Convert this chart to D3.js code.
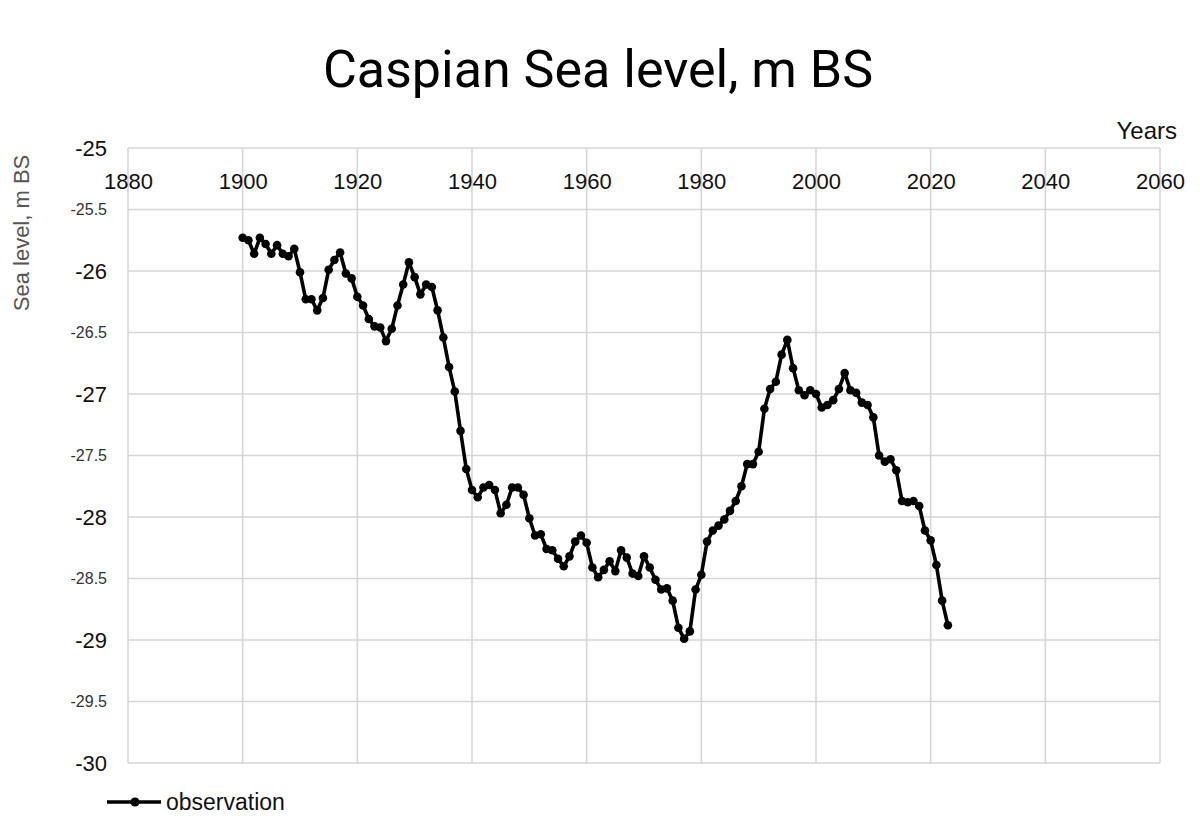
<!DOCTYPE html>
<html>
<head>
<meta charset="utf-8">
<script src="https://cdn.jsdelivr.net/npm/d3@7"></script>
<style>
  body { margin: 0; background: #fff; }
  svg { font-family: "Liberation Sans", Arial, sans-serif; }
</style>
</head>
<body>
<svg width="1200" height="835"></svg>
<script>
var years = d3.range(1900, 2024)
var levels = [
  -25.73, -25.75, -25.86, -25.73, -25.78, -25.86, -25.79, -25.86, -25.88, -25.82,
  -26.01, -26.23, -26.23, -26.32, -26.22, -25.99, -25.91, -25.85, -26.02, -26.06,
  -26.21, -26.28, -26.39, -26.45, -26.46, -26.57, -26.47, -26.28, -26.11, -25.93,
  -26.05, -26.19, -26.11, -26.13, -26.32, -26.54, -26.78, -26.98, -27.30, -27.61,
  -27.78, -27.84, -27.76, -27.74, -27.78, -27.97, -27.90, -27.76, -27.76, -27.82,
  -28.01, -28.15, -28.14, -28.26, -28.27, -28.34, -28.40, -28.32, -28.20, -28.15,
  -28.21, -28.41, -28.49, -28.43, -28.36, -28.44, -28.27, -28.33, -28.46, -28.48,
  -28.32, -28.41, -28.51, -28.59, -28.58, -28.68, -28.90, -28.99, -28.93, -28.59,
  -28.47, -28.20, -28.11, -28.07, -28.02, -27.95, -27.87, -27.75, -27.57, -27.57,
  -27.47, -27.12, -26.96, -26.90, -26.68, -26.56, -26.79, -26.97, -27.01, -26.97,
  -27.00, -27.11, -27.09, -27.05, -26.96, -26.83, -26.97, -26.99, -27.07, -27.09,
  -27.19, -27.50, -27.55, -27.53, -27.62, -27.87, -27.88, -27.87, -27.91, -28.11,
  -28.19, -28.39, -28.68, -28.88
]
var xTicks = d3.range(1880, 2061, 20)
var yTicks = d3.range(-25, -30.01, -0.5)

var data = years.map(function (y, i) { return { year: y, level: levels[i] } })

var svg = d3.select('svg')

var x = d3.scaleLinear().domain([1880, 2060]).range([128, 1160])
var y = d3.scaleLinear().domain([-25, -30]).range([148, 763])

// grid
var grid = svg.append('g')
grid.selectAll('line.v')
    .data(xTicks)
    .enter()
    .append('line')
    .attr('x1', function (d) { return x(d) })
    .attr('x2', function (d) { return x(d) })
    .attr('y1', y(-25))
    .attr('y2', y(-30))
    .attr('stroke', '#d6d6d6')
    .attr('stroke-width', 1.6)
grid.selectAll('line.h')
    .data(yTicks)
    .enter()
    .append('line')
    .attr('x1', x(1880))
    .attr('x2', x(2060))
    .attr('y1', function (d) { return y(d) })
    .attr('y2', function (d) { return y(d) })
    .attr('stroke', '#d6d6d6')
    .attr('stroke-width', 1.6)

// x tick labels sit just under the top edge
var xAxis = d3.axisTop(x).tickValues(xTicks).tickFormat(d3.format('d')).tickSize(0).tickPadding(0)
svg.append('g')
    .attr('transform', 'translate(0,' + 189 + ')')
    .call(xAxis)
    .call(function (g) { g.select('.domain').remove() })
    .selectAll('text')
    .attr('dy', 0)
    .attr('font-size', 22)
    .attr('font-family', '"Liberation Sans", Arial, sans-serif')
    .attr('fill', '#111')

// y tick labels: whole metres large, half metres small (plain hyphen minus)
var yAxis = d3.axisLeft(y).tickValues(yTicks).tickFormat(function (d) { return String(+d.toFixed(1)) }).tickSize(0).tickPadding(0)
svg.append('g')
    .attr('transform', 'translate(107,0)')
    .call(yAxis)
    .call(function (g) { g.select('.domain').remove() })
    .selectAll('text')
    .attr('font-family', '"Liberation Sans", Arial, sans-serif')
    .attr('font-size', function (d) { return Number.isInteger(d) ? 22 : 16 })
    .attr('fill', function (d) { return Number.isInteger(d) ? '#111' : '#333' })
    .attr('dy', function (d) { return Number.isInteger(d) ? '0.34em' : '0.3em' })

// series
var line = d3.line()
    .x(function (d) { return x(d.year) })
    .y(function (d) { return y(d.level) })

svg.append('path')
    .datum(data)
    .attr('d', line)
    .attr('fill', 'none')
    .attr('stroke', '#000')
    .attr('stroke-width', 3.6)
    .attr('stroke-linejoin', 'round')

svg.append('g')
    .selectAll('circle')
    .data(data)
    .enter()
    .append('circle')
    .attr('cx', function (d) { return x(d.year) })
    .attr('cy', function (d) { return y(d.level) })
    .attr('r', 4.3)
    .attr('fill', '#000')

// titles
svg.append('text')
    .attr('x', 598)
    .attr('y', 87)
    .attr('text-anchor', 'middle')
    .attr('font-family', 'Roboto, sans-serif')
    .attr('font-size', 52)
    .attr('fill', '#000')
    .text('Caspian Sea level, m BS')

svg.append('text')
    .attr('x', 1177)
    .attr('y', 139)
    .attr('text-anchor', 'end')
    .attr('font-size', 24)
    .attr('fill', '#111')
    .text('Years')

svg.append('text')
    .attr('transform', 'translate(29,233) rotate(-90)')
    .attr('text-anchor', 'middle')
    .attr('font-size', 22)
    .attr('fill', '#555')
    .text('Sea level, m BS')

// legend
var legend = svg.append('g').attr('transform', 'translate(107,802)')
legend.append('line')
    .attr('x1', 0).attr('x2', 54)
    .attr('stroke', '#000').attr('stroke-width', 3.6)
legend.append('circle')
    .attr('cx', 28).attr('r', 4.6).attr('fill', '#000')
legend.append('text')
    .attr('x', 59)
    .attr('y', 8)
    .attr('font-size', 23)
    .attr('fill', '#111')
    .text('observation')
</script>
</body>
</html>
